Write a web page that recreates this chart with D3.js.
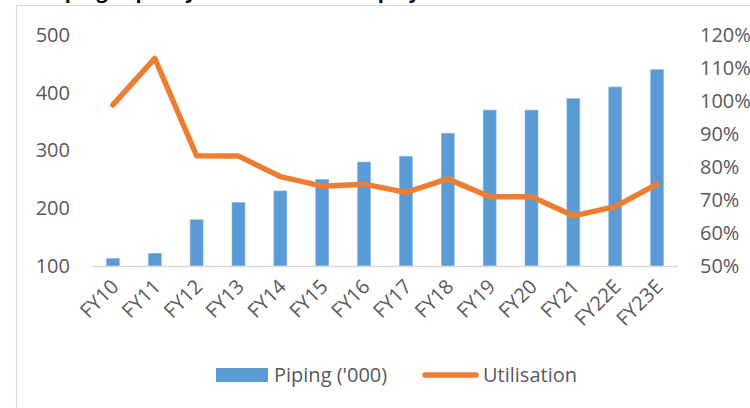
<!DOCTYPE html>
<html>
<head>
<meta charset="utf-8">
<script src="https://cdn.jsdelivr.net/npm/d3@7"></script>
<style>
  html, body { margin: 0; padding: 0; background: #ffffff; }
  svg { display: block; }
  text { font-family: "Open Sans", "Noto Sans", sans-serif; }
</style>
</head>
<body>
<svg id="chart" width="750" height="408"></svg>
<script>
// Fiscal years on the category axis
const years = ["FY10", "FY11", "FY12", "FY13", "FY14", "FY15", "FY16",
               "FY17", "FY18", "FY19", "FY20", "FY21", "FY22E", "FY23E"];
// Piping volume ('000), left axis
const piping = [113, 122, 180, 210, 230, 250, 280, 290, 330, 370, 370, 390, 410, 440];
// Capacity utilisation (%), right axis
const utilisation = [98.8, 112.9, 83.4, 83.3, 77.1, 74.2, 74.8, 72.3, 76.4, 71.0, 71.0, 65.2, 68.0, 74.8];
// Axis ticks
const leftTicks = [100, 200, 300, 400, 500];
const rightTicks = [50, 60, 70, 80, 90, 100, 110, 120];

const svg = d3.select("#chart");
const textColor = "#595959";
const plot = { left: 92, right: 678, top: 35, bottom: 266 };

// Outer frame (top and left edges visible)
svg.append("path")
  .attr("d", `M16.5,420 L16.5,5.5 L760,5.5`)
  .attr("fill", "none")
  .attr("stroke", "#D9D9D9")
  .attr("stroke-width", 1.2);

// Title, sitting above the frame
svg.append("text")
  .attr("x", 46)
  .attr("y", -2)
  .attr("font-size", 20)
  .attr("font-weight", "bold")
  .attr("fill", "#000")
  .text("Piping capacity and utilisation of players");

const x = d3.scaleBand()
  .domain(years)
  .range([plot.left, plot.right])
  .paddingInner(0.69)
  .paddingOuter(0.345);

const yL = d3.scaleLinear().domain([100, 500]).range([plot.bottom, plot.top]);
const yR = d3.scaleLinear().domain([50, 120]).range([plot.bottom, plot.top]);

// Left axis
const leftAxis = svg.append("g")
  .attr("transform", `translate(${plot.left - 22},0)`)
  .call(d3.axisLeft(yL).tickValues(leftTicks).tickSize(0).tickPadding(0));
leftAxis.select(".domain").remove();
leftAxis.selectAll("text")
  .attr("font-size", 20)
  .attr("fill", textColor)
  .attr("font-family", "'Open Sans', sans-serif");

// Right axis
const rightAxis = svg.append("g")
  .attr("transform", `translate(${plot.right + 22},0)`)
  .call(d3.axisRight(yR).tickValues(rightTicks).tickSize(0).tickPadding(0)
    .tickFormat(d => d + "%"));
rightAxis.select(".domain").remove();
rightAxis.selectAll("text")
  .attr("font-size", 20)
  .attr("fill", textColor)
  .attr("font-family", "'Open Sans', sans-serif");

// Bars
svg.append("g").selectAll("rect")
  .data(piping)
  .join("rect")
  .attr("x", (d, i) => x(years[i]))
  .attr("width", x.bandwidth())
  .attr("y", d => yL(d))
  .attr("height", d => yL(100) - yL(d))
  .attr("fill", "#5B9BD5")
  .attr("stroke", "#8DB8E2")
  .attr("stroke-width", 0.6);

// Category baseline
svg.append("line")
  .attr("x1", plot.left).attr("x2", plot.right)
  .attr("y1", plot.bottom + 0.5).attr("y2", plot.bottom + 0.5)
  .attr("stroke", "#D9D9D9")
  .attr("stroke-width", 1.5);

// Category labels
svg.append("g").selectAll("text")
  .data(years)
  .join("text")
  .attr("transform", d => `translate(${x(d) + x.bandwidth() / 2 + 2},${plot.bottom + 17}) rotate(-45)`)
  .attr("text-anchor", "end")
  .attr("dy", "0.35em")
  .attr("font-size", 20)
  .attr("fill", textColor)
  .text(d => d);

// Utilisation line
const line = d3.line()
  .x((d, i) => x(years[i]) + x.bandwidth() / 2)
  .y(d => yR(d));
svg.append("path")
  .datum(utilisation)
  .attr("d", line)
  .attr("fill", "none")
  .attr("stroke", "#ED7D31")
  .attr("stroke-width", 5.5)
  .attr("stroke-linejoin", "round")
  .attr("stroke-linecap", "round");

// Legend
const legend = svg.append("g");
legend.append("rect")
  .attr("x", 216).attr("y", 368)
  .attr("width", 52).attr("height", 14)
  .attr("fill", "#5B9BD5");
legend.append("text")
  .attr("x", 274).attr("y", 375)
  .attr("dy", "0.35em")
  .attr("font-size", 20)
  .attr("fill", textColor)
  .text("Piping ('000)");
legend.append("line")
  .attr("x1", 425).attr("x2", 476)
  .attr("y1", 375).attr("y2", 375)
  .attr("stroke", "#ED7D31")
  .attr("stroke-width", 5.5)
  .attr("stroke-linecap", "round");
legend.append("text")
  .attr("x", 483).attr("y", 375)
  .attr("dy", "0.35em")
  .attr("font-size", 20)
  .attr("fill", textColor)
  .text("Utilisation");
</script>
</body>
</html>
